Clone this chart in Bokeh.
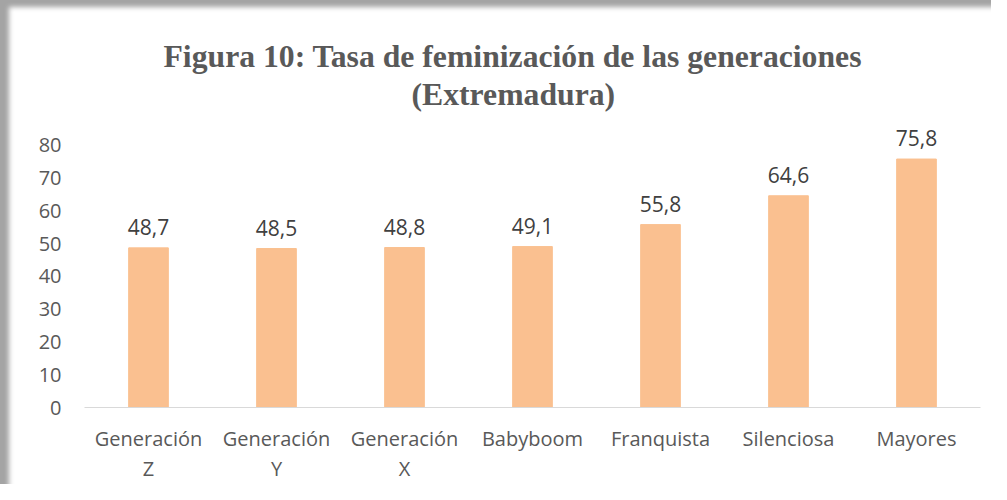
from bokeh.plotting import figure
from bokeh.models import (ColumnDataSource, FixedTicker, Title, Range1d,
                          LinearAxis)
from bokeh.core.properties import value
from bokeh.embed import file_html
from bokeh.resources import INLINE

categories = ["Generación Z", "Generación Y", "Generación X", "Babyboom",
              "Franquista", "Silenciosa", "Mayores"]
label_line1 = ["Generación", "Generación", "Generación", "Babyboom",
               "Franquista", "Silenciosa", "Mayores"]
label_line2 = ["Z", "Y", "X", "", "", "", ""]
tasa = [48.7, 48.5, 48.8, 49.1, 55.8, 64.6, 75.8]
y_ticks = [0, 10, 20, 30, 40, 50, 60, 70, 80]

n = len(categories)
pos = [i + 0.5 for i in range(n)]          # slot centre of each category
labels = [f"{v:.1f}".replace(".", ",") for v in tasa]
src = ColumnDataSource(dict(x=pos, cat=categories, val=tasa, lab=labels))

p = figure(x_range=Range1d(0, n), y_range=Range1d(0, 90), x_axis_type=None,
           width=991, height=484, output_backend="svg", toolbar_location=None,
           min_border_left=84, min_border_right=11, min_border_bottom=76,
           min_border_top=112, border_fill_color=None,
           styles={"box-shadow": "inset 12px 10px 5px -3px #a4a4a4"})

p.vbar(x="x", top="val", width=0.31, source=src, color="#FAC090")
p.text(x="x", y="val", text="lab", source=src, text_align="center",
       text_baseline="bottom", y_offset=-13, text_color="#404040",
       text_font=value("Open Sans"), text_font_size="21px")

p.xgrid.visible = False
p.ygrid.visible = False
p.outline_line_color = None

ya = p.yaxis[0]
ya.ticker = FixedTicker(ticks=y_ticks)
ya.axis_line_color = None
ya.major_tick_line_color = None
ya.minor_tick_line_color = None
ya.major_label_text_font = "Open Sans"
ya.major_label_text_font_size = "20px"
ya.major_label_text_color = "#595959"
ya.major_label_standoff = 17


def label_axis(texts, standoff, line_color):
    ax = LinearAxis(ticker=FixedTicker(ticks=pos),
                    major_label_overrides={c: t for c, t in zip(pos, texts)},
                    axis_line_color=line_color, axis_line_width=1,
                    major_tick_line_color=None, minor_tick_line_color=None,
                    major_tick_out=0, major_tick_in=0,
                    major_label_text_font="Open Sans",
                    major_label_text_font_size="20px",
                    major_label_text_color="#595959",
                    major_label_standoff=standoff)
    p.add_layout(ax, "below")


label_axis(label_line1, 17, "#D9D9D9")
label_axis(label_line2, 0, None)

t2 = Title(text="(Extremadura)", align="left", offset=327,
           text_font="Liberation Serif", text_font_style="bold",
           text_font_size="31.7px", text_color="#595959", standoff=2)
t1 = Title(text="Figura 10: Tasa de feminización de las generaciones",
           align="left", offset=79,
           text_font="Liberation Serif", text_font_style="bold",
           text_font_size="31.7px", text_color="#595959", standoff=0)
p.add_layout(t2, "above")
p.add_layout(t1, "above")

open("out.html", "w").write(file_html(p, INLINE))
